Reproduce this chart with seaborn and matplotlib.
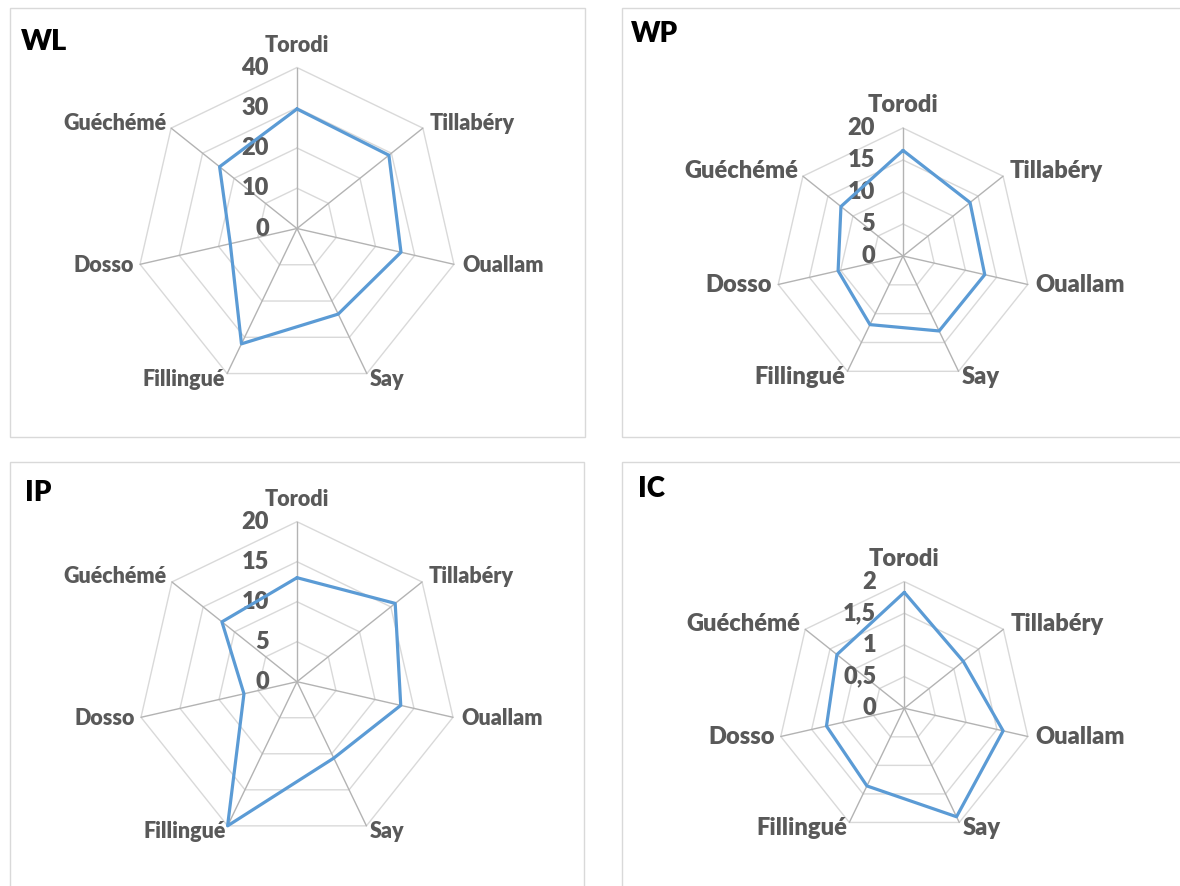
import numpy as np
import pandas as pd
import seaborn as sns
import matplotlib.pyplot as plt
from matplotlib.patches import Rectangle

# data
sites = ["Torodi", "Tillabéry", "Ouallam", "Say", "Fillingué", "Dosso", "Guéchémé"]

wl_values = [29.7, 29.2, 26.5, 23.6, 31.8, 17.0, 24.6]
wp_values = [16.5, 13.4, 13.1, 13.0, 11.9, 10.4, 12.4]
ip_values = [13.0, 15.7, 13.3, 10.6, 20.0, 6.8, 12.0]
ic_values = [1.83, 1.19, 1.60, 1.90, 1.36, 1.26, 1.36]

wl_ticks = [0, 10, 20, 30, 40]
wp_ticks = [0, 5, 10, 15, 20]
ip_ticks = [0, 5, 10, 15, 20]
ic_ticks = [0, 0.5, 1, 1.5, 2]

wl_tick_labels = ["0", "10", "20", "30", "40"]
wp_tick_labels = ["0", "5", "10", "15", "20"]
ip_tick_labels = ["0", "5", "10", "15", "20"]
ic_tick_labels = ["0", "0,5", "1", "1,5", "2"]

sns.set_theme(style="white")
plt.rcParams["font.family"] = ["Lato", "DejaVu Sans"]

W, H = 1180, 886
fig = plt.figure(figsize=(W / 100, H / 100), dpi=100)
fig.patch.set_facecolor("white")

BLUE = "#5B9BD5"
RING = "#D9D9D9"
SPOKE = "#B3B3B3"
TXT = "#595959"
PT = 72 / 100  # px -> points


def box(x0, y0, x1, y1):
    fig.add_artist(Rectangle((x0 / W, 1 - y1 / H), (x1 - x0) / W, (y1 - y0) / H,
                             transform=fig.transFigure, fill=False,
                             edgecolor=RING, linewidth=1.0))


# label placement around the outer polygon (ha, va, dx px, dy px upward)
label_pos = [("center", "bottom", 0, 12), ("left", "center", 7, 5),
             ("left", "center", 8, -1), ("left", "top", 3, 5),
             ("right", "top", -2, 5), ("right", "center", -6, -1),
             ("right", "center", -5, 5)]


def radar(title, values, ticks, tick_labels, cx, cy, R, title_xy, title_size, lab_size):
    ax = fig.add_axes([(cx - R) / W, 1 - (cy + R) / H, 2 * R / W, 2 * R / H],
                      projection="polar")
    ax.set_theta_zero_location("N")
    ax.set_theta_direction(-1)
    ax.grid(False)
    ax.set_xticks([])
    ax.set_yticks([])
    ax.spines["polar"].set_visible(False)
    ax.patch.set_alpha(0)

    n = len(sites)
    angles = [2 * np.pi * i / n for i in range(n)]
    closed = angles + [2 * np.pi]
    rmax = ticks[-1]

    for t in ticks[1:]:
        ax.plot(closed, [t] * (n + 1), color=RING, lw=1.0, clip_on=False, zorder=1)
    for a in angles:
        ax.plot([a, a], [0, rmax], color=SPOKE, lw=1.0, clip_on=False, zorder=1)

    df = pd.DataFrame({"angle": closed, "value": values + [values[0]]})
    sns.lineplot(data=df, x="angle", y="value", ax=ax, sort=False, estimator=None,
                 color=BLUE, linewidth=2.3, clip_on=False, zorder=3)
    ax.set_xlabel("")
    ax.set_ylabel("")
    ax.set_ylim(0, rmax)

    for t, lbl in zip(ticks, tick_labels):
        ax.annotate(lbl, xy=(0, t), xytext=(-28 * PT, 0), textcoords="offset points",
                    ha="right", va="center", fontsize=17, fontweight="heavy",
                    color=TXT, annotation_clip=False, zorder=2)

    for a, name, (ha, va, dx, dy) in zip(angles, sites, label_pos):
        ax.annotate(name, xy=(a, rmax), xytext=(dx * PT, dy * PT),
                    textcoords="offset points", ha=ha, va=va,
                    fontsize=lab_size, fontweight="heavy", color=TXT,
                    annotation_clip=False)

    fig.text(title_xy[0] / W, 1 - title_xy[1] / H, title, ha="left", va="baseline",
             fontsize=title_size, fontweight="heavy", color="black")


box(9.5, 8.5, 585, 437)
box(621.5, 8.5, 1190, 437)
box(9.5, 461.5, 584, 900)
box(621.5, 461.5, 1190, 900)

radar("WL", wl_values, wl_ticks, wl_tick_labels, 297, 228.5, 161, (21, 50), 21, 15.5)
radar("WP", wp_values, wp_ticks, wp_tick_labels, 903, 256, 128, (631, 41.5), 20, 17)
radar("IP", ip_values, ip_ticks, ip_tick_labels, 297, 681.7, 160, (25, 501.5), 20, 15.5)
radar("IC", ic_values, ic_ticks, ic_tick_labels, 904.3, 708.3, 126.7, (638, 496.5), 20, 17)

fig.savefig("out.png", dpi=100, facecolor="white")
